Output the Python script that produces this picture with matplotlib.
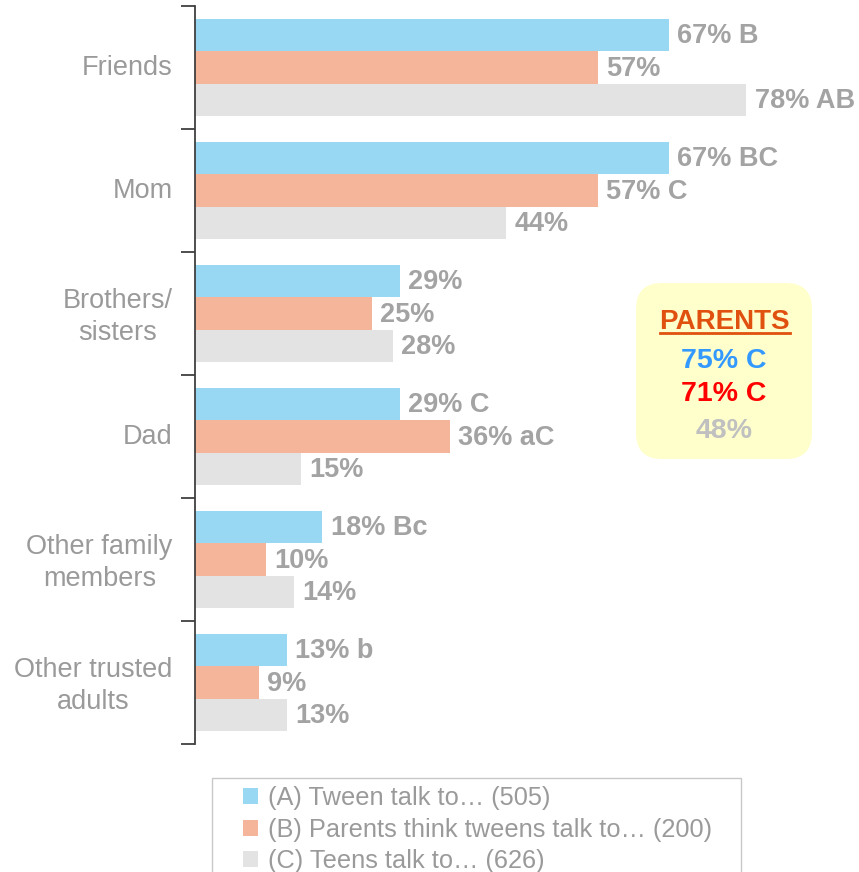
import matplotlib
matplotlib.use("Agg")
import matplotlib.pyplot as plt
import matplotlib.transforms as mtransforms
import numpy as np
from matplotlib.patches import FancyBboxPatch, Rectangle
from matplotlib.lines import Line2D

plt.rcParams['font.family'] = ['Liberation Sans', 'DejaVu Sans']

# Data
categories = ['Friends', 'Mom', 'Brothers/\nsisters', 'Dad', 'Other family\nmembers', 'Other trusted\nadults']
tween = [67, 67, 29, 29, 18, 13]
parents = [57, 57, 25, 36, 10, 9]
teens = [78, 44, 28, 15, 14, 13]
tween_lbl = ['67% B', '67% BC', '29%', '29% C', '18% Bc', '13% b']
parents_lbl = ['57%', '57% C', '25%', '36% aC', '10%', '9%']
teens_lbl = ['78% AB', '44%', '28%', '15%', '14%', '13%']
series_names = ['(A) Tween talk to\u2026 (505)',
                '(B) Parents think tweens talk to\u2026 (200)',
                '(C) Teens talk to\u2026 (626)']
colors = ['#99d8f2', '#f4b59a', '#e3e3e3']
box_lines = ['75% C', '71% C', '48%']
box_colors = ['#3399ff', '#ff0000', '#c0c0c0']

W, H = 859, 872
fig = plt.figure(figsize=(W / 100, H / 100), dpi=100)
ax = fig.add_axes([195 / W, 1 - 744 / H, 1 - 195 / W, (744 - 6) / H])

y = np.arange(len(categories))
h = 0.265
txt = '#a3a3a3'
series = [(tween, tween_lbl), (parents, parents_lbl), (teens, teens_lbl)]
for k, (vals, lbls) in enumerate(series):
    pos = y + (k - 1) * h
    ax.barh(pos, vals, height=h, color=colors[k], label=series_names[k])
    for p, v, l in zip(pos, vals, lbls):
        ax.annotate(l, (v, p), xytext=(6, -1), textcoords='offset points',
                    va='center', ha='left', fontsize=19.5, fontweight='bold', color=txt)

ax.set_xlim(0, (W - 195) / 7.07)
ax.set_ylim(len(categories) - 0.5, -0.5)
ax.set_xticks([])
for s in ['top', 'right', 'bottom']:
    ax.spines[s].set_visible(False)
ax.spines['left'].set_color('#404040')
ax.spines['left'].set_linewidth(1.3)
ax.set_yticks(np.arange(-0.5, len(categories)), labels=[''] * (len(categories) + 1))
ax.tick_params(axis='y', which='major', length=10, width=1.3, color='#404040')
ax.set_yticks(y, labels=categories, minor=True)
ax.tick_params(axis='y', which='minor', length=0, pad=16, labelsize=19.5, labelcolor='#9a9a9a')
shift = mtransforms.ScaledTranslation(0, 2 / 72, fig.dpi_scale_trans)
for t in ax.get_yticklabels(minor=True):
    t.set_multialignment('center')
    t.set_linespacing(1.3)
    t.set_transform(t.get_transform() + shift)

# Parents box
box = FancyBboxPatch((636 / W, 1 - 459 / H), 176 / W, 176 / H,
                     boxstyle='round,pad=0,rounding_size=0.03',
                     transform=fig.transFigure, facecolor='#ffffcc', edgecolor='none')
fig.patches.append(box)
cx = 724 / W
fig.text(cx, 1 - 319 / H, 'PARENTS', ha='center', va='center_baseline', fontsize=20,
         fontweight='bold', color='#e0500f',
         family=['Liberation Sans Narrow', 'Liberation Sans'])
fig.add_artist(Line2D([660 / W, 790 / W], [1 - 333 / H] * 2, color='#e0500f', lw=2))
for yy, s, c in zip([358, 391, 428], box_lines, box_colors):
    fig.text(cx, 1 - yy / H, s, ha='center', va='center_baseline', fontsize=20.5,
             fontweight='bold', color=c)

# Legend with manual frame
fig.patches.append(Rectangle((212 / W, -0.05), (741 - 212) / W, 0.05 + 1 - 778 / H,
                             transform=fig.transFigure, facecolor='none',
                             edgecolor='#c8c8c8', lw=1))
fig.legend(loc='upper left', bbox_to_anchor=(243 / W, 1 - 786 / H), frameon=False,
           borderpad=0, borderaxespad=0, handlelength=0.6, handleheight=0.6,
           handletextpad=0.4, labelspacing=0.3, fontsize=18.3, labelcolor='#9a9a9a')

fig.savefig('out.png', dpi=100)
